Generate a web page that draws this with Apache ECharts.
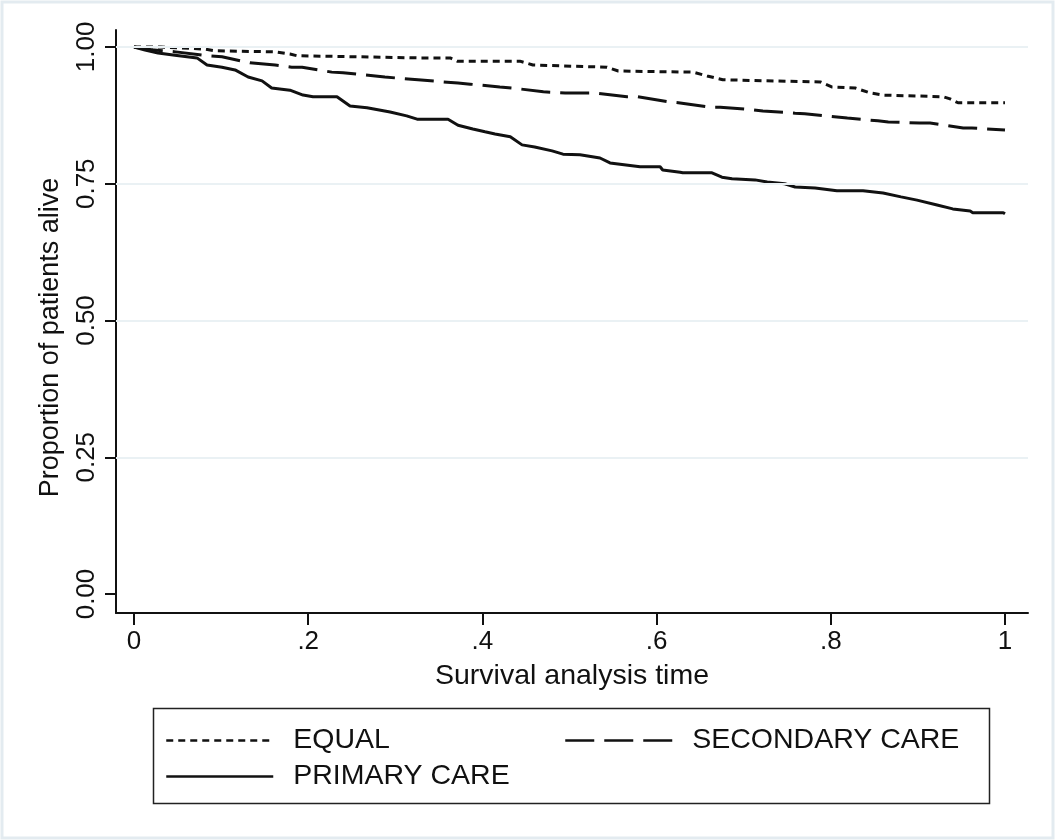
<!DOCTYPE html>
<html>
<head>
<meta charset="utf-8">
<script src="https://cdn.jsdelivr.net/npm/echarts@6/dist/echarts.min.js"></script>
<style>html,body{margin:0;padding:0;background:#fff}#c{width:1055px;height:840px}</style>
</head>
<body>
<div id="c"></div>
<script>
// ---- data ----
const seriesNames = ['EQUAL', 'SECONDARY CARE', 'PRIMARY CARE'];
const equalTime  = [0, 0.031, 0.0815, 0.093, 0.162, 0.179, 0.187, 0.328, 0.363, 0.371, 0.443, 0.458, 0.543, 0.556, 0.642, 0.658, 0.676, 0.788, 0.801, 0.828, 0.845, 0.860, 0.929, 0.937, 0.946, 1.0];
const equalSurv  = [1.0, 1.0, 0.996, 0.993, 0.991, 0.987, 0.984, 0.980, 0.980, 0.974, 0.974, 0.967, 0.963, 0.956, 0.954, 0.947, 0.940, 0.936, 0.927, 0.925, 0.916, 0.912, 0.909, 0.905, 0.898, 0.898];
const secTime = [0, 0.0195, 0.048, 0.085, 0.101, 0.133, 0.162, 0.181, 0.193, 0.227, 0.240, 0.277, 0.288, 0.326, 0.372, 0.386, 0.420, 0.434, 0.470, 0.495, 0.518, 0.529, 0.566, 0.578, 0.613, 0.625, 0.661, 0.673, 0.711, 0.722, 0.759, 0.770, 0.807, 0.819, 0.854, 0.866, 0.902, 0.914, 0.952, 0.962, 1.0];
const secSurv = [1.0, 0.995, 0.991, 0.984, 0.982, 0.971, 0.967, 0.963, 0.963, 0.954, 0.953, 0.947, 0.945, 0.940, 0.934, 0.932, 0.927, 0.925, 0.918, 0.916, 0.916, 0.916, 0.909, 0.909, 0.900, 0.898, 0.890, 0.890, 0.885, 0.883, 0.879, 0.878, 0.872, 0.870, 0.865, 0.863, 0.861, 0.861, 0.852, 0.852, 0.848];
const priTime = [0, 0.0126, 0.0276, 0.047, 0.0723, 0.0838, 0.101, 0.116, 0.131, 0.147, 0.158, 0.179, 0.194, 0.2055, 0.233, 0.248, 0.2675, 0.294, 0.313, 0.325, 0.3605, 0.372, 0.389, 0.403, 0.4145, 0.432, 0.4455, 0.460, 0.480, 0.4925, 0.512, 0.535, 0.5465, 0.581, 0.604, 0.607, 0.627, 0.630, 0.6636, 0.675, 0.6866, 0.713, 0.727, 0.747, 0.759, 0.782, 0.807, 0.837, 0.860, 0.8806, 0.899, 0.922, 0.940, 0.960, 0.963, 0.998, 1.0];
const priSurv = [1.0, 0.9945, 0.989, 0.985, 0.980, 0.967, 0.963, 0.958, 0.945, 0.938, 0.925, 0.921, 0.912, 0.909, 0.909, 0.892, 0.889, 0.881, 0.874, 0.868, 0.868, 0.857, 0.850, 0.845, 0.841, 0.836, 0.821, 0.817, 0.810, 0.804, 0.803, 0.797, 0.788, 0.781, 0.781, 0.775, 0.771, 0.770, 0.770, 0.762, 0.759, 0.757, 0.753, 0.750, 0.744, 0.742, 0.737, 0.737, 0.733, 0.726, 0.720, 0.711, 0.704, 0.700, 0.697, 0.697, 0.695];
const xTickValues = [0, 0.2, 0.4, 0.6, 0.8, 1];
const xTickLabels = ['0', '.2', '.4', '.6', '.8', '1'];
const yTickValues = [0, 0.25, 0.5, 0.75, 1];
const yTickLabels = ['0.00', '0.25', '0.50', '0.75', '1.00'];
const gridValues = [0.25, 0.5, 0.75, 1];
const xTitle = 'Survival analysis time';
const yTitle = 'Proportion of patients alive';

const zip = (a, b) => a.map((v, i) => [v, b[i]]);
const FONT = '"Liberation Sans", Arial, sans-serif';
const INK = '#111';

const chart = echarts.init(document.getElementById('c'), null, {renderer: 'canvas'});
const legendBase = {
  orient: 'horizontal', itemWidth: 107, itemHeight: 14, padding: 0,
  itemStyle: {opacity: 0},
  lineStyle: {width: 2.5},
  textStyle: {fontFamily: FONT, fontSize: 28.5, color: INK, padding: [0, 0, 0, 15]},
  selectedMode: false
};
chart.setOption({
  backgroundColor: '#fff',
  animation: false,
  textStyle: {fontFamily: FONT},
  grid: {left: 116, top: 30, right: 27, bottom: 227, containLabel: false},
  xAxis: {
    type: 'value', min: -0.0207, max: 1.0264,
    name: xTitle, nameLocation: 'middle', nameGap: 49,
    nameTextStyle: {fontFamily: FONT, fontSize: 28.5, color: INK},
    axisLine: {show: true, onZero: false, lineStyle: {color: INK, width: 2}},
    axisTick: {show: true, length: 12, customValues: xTickValues, lineStyle: {color: INK, width: 2}},
    axisLabel: {show: true, customValues: xTickValues, margin: 16, fontFamily: FONT, fontSize: 26, color: INK,
      formatter: v => xTickLabels[xTickValues.findIndex(t => Math.abs(t - v) < 1e-9)]},
    splitLine: {show: false}
  },
  yAxis: {
    type: 'value', min: -0.0347, max: 1.031,
    name: yTitle, nameLocation: 'middle', nameGap: 52,
    nameTextStyle: {fontFamily: FONT, fontSize: 27, color: INK, padding: [0, 32, 0, 0]},
    axisLine: {show: true, onZero: false, lineStyle: {color: INK, width: 2}},
    axisTick: {show: true, length: 11, customValues: yTickValues, lineStyle: {color: INK, width: 2}},
    axisLabel: {show: true, customValues: yTickValues, rotate: 90, margin: 16, fontFamily: FONT, fontSize: 26, color: INK,
      formatter: v => yTickLabels[yTickValues.findIndex(t => Math.abs(t - v) < 1e-9)]},
    splitLine: {show: false}
  },
  legend: [
    Object.assign({}, legendBase, {data: [seriesNames[0]], left: 165, top: 726}),
    Object.assign({}, legendBase, {data: [seriesNames[1]], left: 564, top: 726}),
    Object.assign({}, legendBase, {data: [seriesNames[2]], left: 165, top: 762})
  ],
  graphic: [
    {type: 'rect', z: -10, silent: true, shape: {x: 2, y: 2, width: 1051, height: 836},
      style: {fill: '#fff', stroke: '#e3ebf0', lineWidth: 3}},
    {type: 'rect', z: 10, silent: true, shape: {x: 153.5, y: 708.5, width: 836, height: 95},
      style: {fill: 'none', stroke: '#222', lineWidth: 1.5}}
  ],
  series: [
    {
      type: 'line', name: '_grid', data: [], z: 1, silent: true,
      markLine: {silent: true, symbol: ['none', 'none'], label: {show: false},
        lineStyle: {color: '#eaf1f4', width: 2, type: 'solid'},
        data: gridValues.map(v => ({yAxis: v}))}
    },
    {
      type: 'line', name: seriesNames[0], data: zip(equalTime, equalSurv), z: 3,
      showSymbol: false, symbol: 'none', color: INK,
      lineStyle: {color: INK, width: 3, type: [7, 5]}
    },
    {
      type: 'line', name: seriesNames[1], data: zip(secTime, secSurv), z: 3,
      showSymbol: false, symbol: 'none', color: INK,
      lineStyle: {color: INK, width: 3, type: [29, 10]}
    },
    {
      type: 'line', name: seriesNames[2], data: zip(priTime, priSurv), z: 3,
      showSymbol: false, symbol: 'none', color: INK,
      lineStyle: {color: INK, width: 3, type: 'solid'}
    }
  ]
});
</script>
</body>
</html>
